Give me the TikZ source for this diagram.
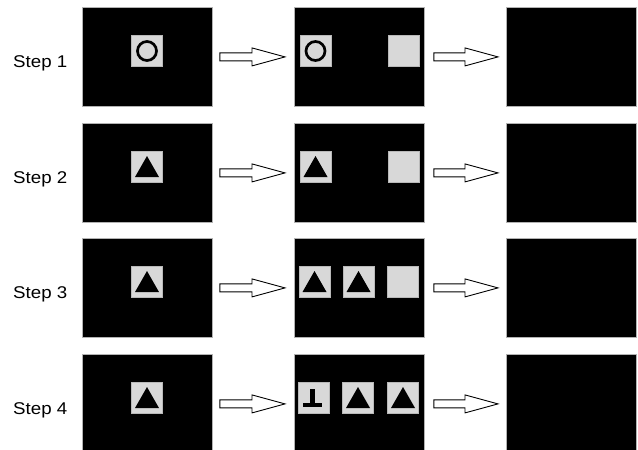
\documentclass[tikz,border=0pt]{standalone}
\usepackage{fontspec}
\setmainfont{Liberation Sans}
\newfontfamily\lblfont[FakeStretch=1.1]{Liberation Sans}
\usetikzlibrary{calc}
\definecolor{stimgray}{HTML}{D8D8D8}
\newcommand\stimtri[1]{\fill[black] ($(#1.center)+(0,-11)$) -- ($(#1.center)+(12,10)$) -- ($(#1.center)+(-12,10)$) -- cycle;}
\newcommand\stimcirc[1]{\draw[black,line width=2.7pt] (#1.center) circle (9.5);}
\newcommand\stimtee[1]{\fill[black] ($(#1.center)+(-3.5,-9.5)$) rectangle ($(#1.center)+(1.5,8.5)$);
  \fill[black] ($(#1.center)+(-10.5,4.5)$) rectangle ($(#1.center)+(8.5,8.5)$);}
\newcommand\blockarrow[2]{\draw[blockarr] let \p1=(#1), \p2=(#2) in
  (\x1,\y1+4pt) -- (\x2-33pt,\y1+4pt) -- (\x2-33pt,\y1+9pt) -- (\x2,\y1)
  -- (\x2-33pt,\y1-9pt) -- (\x2-33pt,\y1-4pt) -- (\x1,\y1-4pt) -- cycle;}
\begin{document}
\begin{tikzpicture}[x=1pt,y=-1pt,
  screen/.style={draw=gray!60, line width=0.8pt, fill=black, minimum width=130pt, minimum height=99pt, inner sep=0pt, anchor=north west},
  stim/.style={fill=stimgray, draw=gray!55, line width=0.5pt, minimum size=31pt, inner sep=0pt},
  blockarr/.style={draw=black, line width=0.9pt, fill=white, line join=miter},
  lbl/.style={font=\lblfont\fontsize{17}{20}\selectfont, anchor=base west, inner sep=0pt}]
\useasboundingbox (0,0) rectangle (638,450);
\clip (0,0) rectangle (638,450);
\fill[white] (0,0) rectangle (638,450);
\foreach \r/\t in {1/7,2/123,3/238,4/354}{
  \node[lbl] (lab\r) at (13,\t+60.5) {Step \r};
  \node[screen] (L\r) at (82,\t) {};
  \node[screen] (M\r) at (294,\t) {};
  \node[screen] (R\r) at (506,\t) {};
  \node[stim] (s\r) at (147,\t+44) {};
  \coordinate (a\r s) at ($(L\r.east)+(7,0)$);
  \coordinate (a\r e) at ($(M\r.west)+(-9,0)$);
  \coordinate (b\r s) at ($(M\r.east)+(9,0)$);
  \coordinate (b\r e) at ($(R\r.west)+(-8,0)$);
  \blockarrow{a\r s}{a\r e}
  \blockarrow{b\r s}{b\r e}
}
% middle stimuli
\node[stim] (m11) at (315.5,51) {};
\node[stim] (m13) at (403.5,51) {};
\node[stim] (m21) at (315.5,167) {};
\node[stim] (m23) at (403.5,167) {};
\node[stim] (m31) at (314.5,282) {};
\node[stim] (m32) at (358.5,282) {};
\node[stim] (m33) at (403,282) {};
\node[stim] (m41) at (313.5,398) {};
\node[stim] (m42) at (358,398) {};
\node[stim] (m43) at (403,398) {};
% shapes
\stimcirc{s1}
\stimcirc{m11}
\stimtri{s2}
\stimtri{s3}
\stimtri{s4}
\stimtri{m21}
\stimtri{m31}
\stimtri{m32}
\stimtee{m41}
\stimtri{m42}
\stimtri{m43}
\end{tikzpicture}
\end{document}
